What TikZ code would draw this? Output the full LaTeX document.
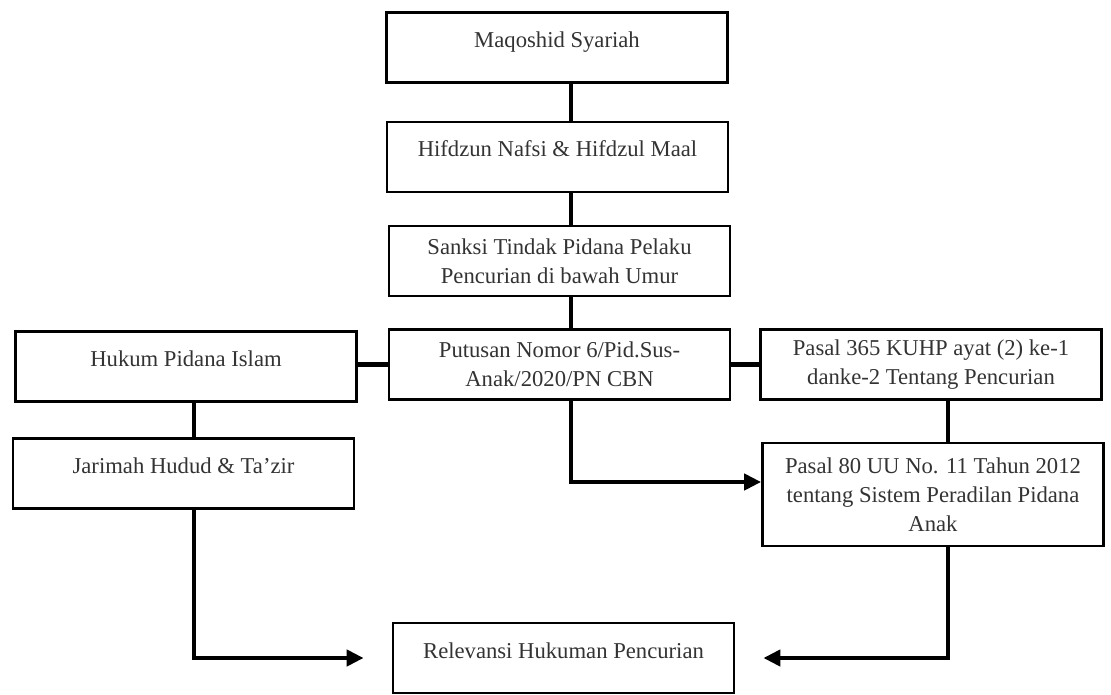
\documentclass[tikz,border=0pt]{standalone}
\usepackage{fontspec}
\setmainfont{Liberation Serif}
\usepackage{tikz}
\usetikzlibrary{arrows.meta, % for filled arrow tips
                calc,
                positioning}

\begin{document}
\begin{tikzpicture}[x=0.02cm, y=-0.02cm,%
    Box/.style={draw, line width=1.6pt, rectangle, inner sep=0pt,
        minimum width=6.82cm, minimum height=1.4cm, align=center,
        text=black!80, font=\fontsize{12.9}{16.4}\selectfont},
    OneLine/.style={Box, text height=0.7em, text depth=0.7em},
    Link/.style={line width=2.6pt},
    Arrow/.style={Link, -{Triangle[length=0.34cm, width=0.32cm]}}
    ]

    \useasboundingbox (0,0) rectangle (1111,695);

    %middle column
    \node[OneLine] at (557,47.5)   (maqoshid){Maqoshid Syariah};
    \node[OneLine] at (557.5,157)  (hifdz){Hifdzun Nafsi \& Hifdzul Maal};
    \node[Box]     at (559.5,261)  (sanksi){Sanksi Tindak Pidana Pelaku\\Pencurian di bawah Umur};
    \node[Box]     at (559.5,364.5)(putusan){Putusan Nomor 6/Pid.Sus-\\Anak/2020/PN CBN};
    \node[OneLine] at (563.5,658)  (relevansi){Relevansi Hukuman Pencurian};

    %left column
    \node[OneLine] at (186,366.5)  (hukum){Hukum Pidana Islam};
    \node[OneLine] at (183.5,473.5)(jarimah){Jarimah Hudud \& Ta'zir};

    %right column
    \node[Box] at (931,364.5) (pasal365){Pasal 365 KUHP ayat (2) ke-1\\danke-2 Tentang Pencurian};
    \node[Box, minimum height=2.06cm] at (933,494.5) (pasal80){Pasal 80 UU No. 11 Tahun 2012\\tentang Sistem Peradilan Pidana\\Anak};

    %vertical lines of the connectors
    \coordinate (spine) at (571,0);
    \coordinate (lspine) at (194,0);
    \coordinate (rspine) at (948,0);

    \draw[Link] (maqoshid.south -| spine) -- (hifdz.north -| spine);
    \draw[Link] (hifdz.south -| spine) -- (sanksi.north -| spine);
    \draw[Link] (sanksi.south -| spine) -- (putusan.north -| spine);
    \draw[Link] (putusan.west) -- (putusan.west -| hukum.east);
    \draw[Link] (putusan.east) -- (putusan.east -| pasal365.west);
    \draw[Link] (hukum.south -| lspine) -- (jarimah.north -| lspine);
    \draw[Link] (pasal365.south -| rspine) -- (pasal80.north -| rspine);

    \draw[Arrow] (putusan.south -| spine) |- ($(pasal80.west)+(0,-12.5)$);
    \draw[Arrow, shorten >=0.56cm] (jarimah.south -| lspine) |- (relevansi.west);
    \draw[Arrow, shorten >=0.56cm] (pasal80.south -| rspine) |- (relevansi.east);
\end{tikzpicture}
\end{document}
